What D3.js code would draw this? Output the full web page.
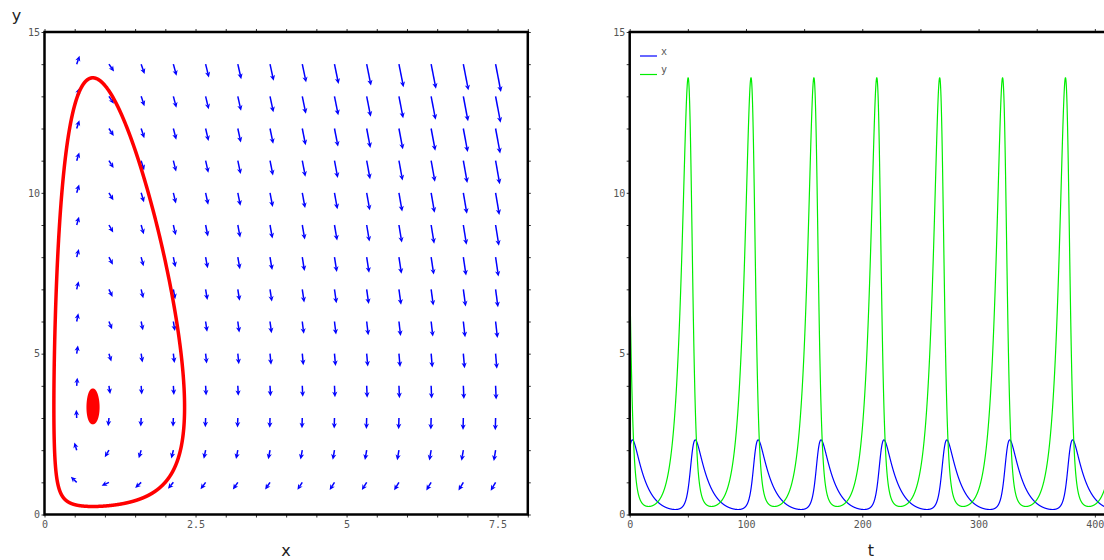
<!DOCTYPE html>
<html>
<head>
<meta charset="utf-8">
<script src="https://cdn.jsdelivr.net/npm/d3@7"></script>
<style>
  body { margin: 0; background: #fff; }
  svg { display: block; }
  .tick text { font-family: "DejaVu Sans Mono", monospace; font-size: 10px; fill: #555; }
  .tick line { stroke: #333; }
  .axis-title { font-family: "DejaVu Sans", sans-serif; font-size: 16px; fill: #222; }
  .legend-label { font-family: "DejaVu Sans Mono", monospace; font-size: 10px; fill: #555; }
</style>
</head>
<body>
<svg id="chart" width="1104" height="560"></svg>
<script>
// predator x, prey y:  dx/dt = x*(c*y - d),  dy/dt = y*(a - b*x)
const rates = [0.2, 0.25, 0.03, 0.1]; // a, b, c, d
const cycleStart = [2.03, 7.6];
const smallStart = [0.8, 3.88];
const tEnd = 415;
const seriesNames = ["x", "y"];

// direction field grid
const gridX = [0.533, 1.067, 1.6, 2.133, 2.667, 3.2, 3.733, 4.267, 4.8, 5.333, 5.867, 6.4, 6.933, 7.467];
const gridY = [1, 2, 3, 4, 5, 6, 7, 8, 9, 10, 11, 12, 13, 14];

// ticks
const xTicks = [0, 0.5, 1, 1.5, 2, 2.5, 3, 3.5, 4, 4.5, 5, 5.5, 6, 6.5, 7, 7.5, 8];
const xLabels = [0, 2.5, 5, 7.5];
const yTicks = [0, 1, 2, 3, 4, 5, 6, 7, 8, 9, 10, 11, 12, 13, 14, 15];
const yLabels = [0, 5, 10, 15];
const tTicks = [0, 50, 100, 150, 200, 250, 300, 350, 400];
const tLabels = [0, 100, 200, 300, 400];

const [a, b, c, d] = rates;
function deriv(p) {
  return [p[0] * (c * p[1] - d), p[1] * (a - b * p[0])];
}

function integrate(start, tMax, dt) {
  let p = start.slice();
  const out = [{ t: 0, x: p[0], y: p[1] }];
  const n = Math.round(tMax / dt);
  for (let i = 1; i <= n; i++) {
    const k1 = deriv(p);
    const k2 = deriv([p[0] + dt / 2 * k1[0], p[1] + dt / 2 * k1[1]]);
    const k3 = deriv([p[0] + dt / 2 * k2[0], p[1] + dt / 2 * k2[1]]);
    const k4 = deriv([p[0] + dt * k3[0], p[1] + dt * k3[1]]);
    p = [
      p[0] + dt / 6 * (k1[0] + 2 * k2[0] + 2 * k3[0] + k4[0]),
      p[1] + dt / 6 * (k1[1] + 2 * k2[1] + 2 * k3[1] + k4[1]),
    ];
    out.push({ t: i * dt, x: p[0], y: p[1] });
  }
  return out;
}

const svg = d3.select("#chart");

const plotTop = 32, plotBottom = 514.5;
const xScale = d3.scaleLinear().domain([0, 8]).range([44.5, 527.8]);
const yScale = d3.scaleLinear().domain([0, 15]).range([plotBottom, plotTop]);
const tScale = d3.scaleLinear().domain([0, tEnd]).range([629.7, 1112.3]);

const fmt = (labels) => (v) => (labels.includes(v) ? String(v) : "");

function drawAxes(g, xs, xt, xl) {
  const [x0, x1] = xs.range();
  g.append("g")
    .attr("transform", `translate(0,${plotBottom})`)
    .call(d3.axisBottom(xs).tickValues(xt).tickSize(3).tickPadding(3).tickFormat(fmt(xl)));
  g.append("g")
    .attr("transform", `translate(0,${plotTop})`)
    .call(d3.axisTop(xs).tickValues(xt).tickSize(3).tickFormat(""));
  g.append("g")
    .attr("transform", `translate(${x0},0)`)
    .call(d3.axisLeft(yScale).tickValues(yTicks).tickSize(3).tickPadding(1.5).tickFormat(fmt(yLabels)));
  g.append("g")
    .attr("transform", `translate(${x1},0)`)
    .call(d3.axisRight(yScale).tickValues(yTicks).tickSize(3).tickFormat(""));
  g.selectAll(".domain").remove();
  g.selectAll(".tick text").attr("font-family", null).attr("font-size", null);

  g.append("rect")
    .attr("x", x0)
    .attr("y", plotTop)
    .attr("width", x1 - x0)
    .attr("height", plotBottom - plotTop)
    .attr("fill", "none")
    .attr("stroke", "#000")
    .attr("stroke-width", 2.5);
}

// ---------- left: phase plane ----------
const phase = svg.append("g");

const arrows = [];
gridY.forEach((gy) => {
  gridX.forEach((gx) => {
    const v = deriv([gx, gy]);
    const px = v[0] * (xScale(1) - xScale(0));
    const py = v[1] * (yScale(0) - yScale(1));
    arrows.push({ gx, gy, px, py, m: Math.hypot(px, py) });
  });
});

const arrowG = phase.append("g");
arrows.forEach((ar) => {
  const L = 8 + 0.0265 * ar.m;
  const ux = ar.px / ar.m, uy = -ar.py / ar.m;
  const x0 = xScale(ar.gx), y0 = yScale(ar.gy);
  const tx = x0 + L * ux, ty = y0 + L * uy;
  const head = 5.5, hw = 2.6;
  const bx = tx - head * ux, by = ty - head * uy;
  arrowG.append("line")
    .attr("x1", x0).attr("y1", y0)
    .attr("x2", bx + 1.5 * ux).attr("y2", by + 1.5 * uy)
    .attr("stroke", "#0000ff")
    .attr("stroke-width", 1.5);
  arrowG.append("path")
    .attr("d", `M${tx},${ty}L${bx - hw * uy},${by + hw * ux}L${bx + 1.5 * ux},${by + 1.5 * uy}L${bx + hw * uy},${by - hw * ux}Z`)
    .attr("fill", "#0000ff");
});

const phaseLine = d3.line().x((p) => xScale(p.x)).y((p) => yScale(p.y));

const cycle = integrate(cycleStart, tEnd, 0.05);
phase.append("path")
  .attr("d", phaseLine(cycle))
  .attr("fill", "none")
  .attr("stroke", "#ff0000")
  .attr("stroke-width", 3.5);

const small = integrate(smallStart, 50, 0.05);
phase.append("path")
  .attr("d", phaseLine(small))
  .attr("fill", "#ff0000")
  .attr("stroke", "#ff0000")
  .attr("stroke-width", 2.5);

drawAxes(phase, xScale, xTicks, xLabels);

phase.append("text").attr("class", "axis-title")
  .attr("x", 286).attr("y", 556).attr("text-anchor", "middle").text("x");
phase.append("text").attr("class", "axis-title")
  .attr("x", 16.5).attr("y", 21).attr("text-anchor", "middle").text("y");

// ---------- right: time series ----------
const ts = svg.append("g");
const colors = { x: "#0000ff", y: "#00ee00" };

ts.append("clipPath").attr("id", "tsClip")
  .append("rect")
  .attr("x", tScale(0)).attr("y", plotTop)
  .attr("width", tScale(tEnd) - tScale(0)).attr("height", plotBottom - plotTop);

const plotG = ts.append("g").attr("clip-path", "url(#tsClip)");
seriesNames.forEach((name) => {
  plotG.append("path")
    .attr("d", d3.line().x((p) => tScale(p.t)).y((p) => yScale(p[name]))(cycle))
    .attr("fill", "none")
    .attr("stroke", colors[name])
    .attr("stroke-width", 1.2);
});

drawAxes(ts, tScale, tTicks, tLabels);

const legend = ts.append("g").attr("transform", "translate(640,56)");
seriesNames.forEach((name, i) => {
  legend.append("line")
    .attr("x1", 0).attr("x2", 17)
    .attr("y1", i * 18.5).attr("y2", i * 18.5)
    .attr("stroke", colors[name])
    .attr("stroke-width", 1.2);
  legend.append("text").attr("class", "legend-label")
    .attr("x", 21).attr("y", i * 18.5 - 1.5)
    .text(name);
});

ts.append("text").attr("class", "axis-title")
  .attr("x", 871).attr("y", 556).attr("text-anchor", "middle").text("t");
</script>
</body>
</html>
